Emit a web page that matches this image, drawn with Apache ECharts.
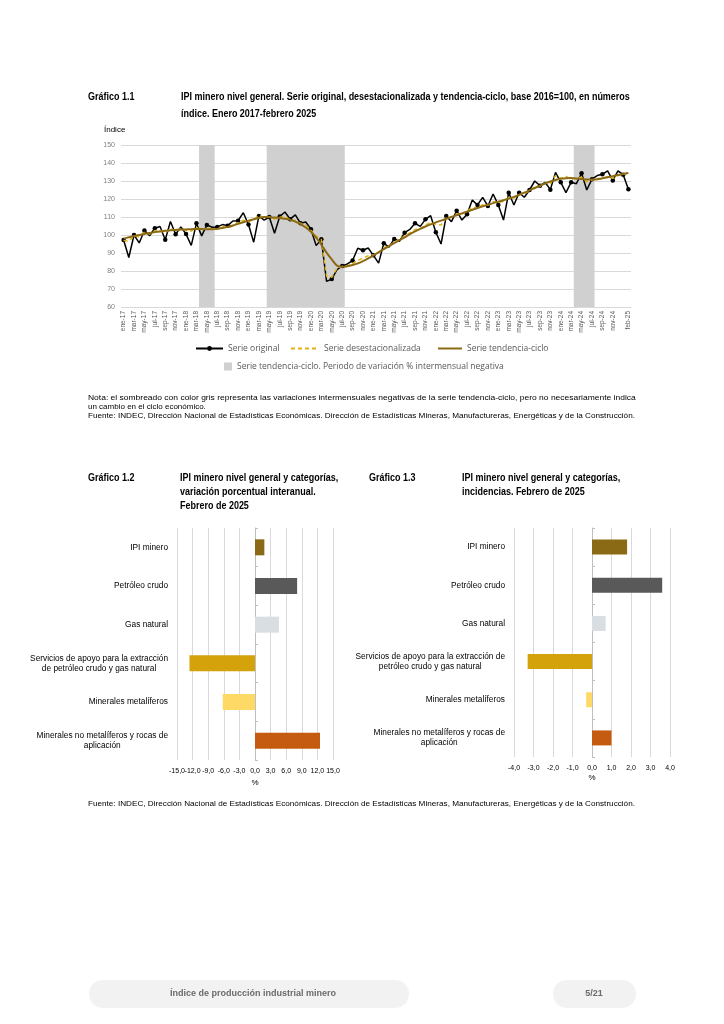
<!DOCTYPE html>
<html><head><meta charset="utf-8">
<script src="https://cdn.jsdelivr.net/npm/echarts@6/dist/echarts.min.js"></script>
<style>html,body{margin:0;padding:0;background:#fff}#main{width:724px;height:1024px}</style>
</head><body><div id="main"></div>
<script>
// ---- Gráfico 1.1 data ----
const mesesAbbr = ['ene','feb','mar','abr','may','jun','jul','ago','sep','oct','nov','dic'];
const meses = [];
for (let y = 17; y <= 25; y++) for (let m = 0; m < 12; m++) { if (y === 25 && m > 1) break; meses.push(mesesAbbr[m] + '-' + y); }

const serieOriginal = [
 97.2, 87.5,100.0, 95.6,102.5, 99.6,103.8,104.7, 97.4,107.5,100.4,104.5,
100.5, 94.2,106.5, 99.5,105.6,104.3,104.5,105.8,105.2,107.8,107.9,112.4,
105.8, 96.0,110.6,108.3,110.0,101.0,110.3,112.8,108.8,111.2,106.5,107.2,
103.2, 94.1, 97.6, 74.2, 75.5, 80.7, 82.8, 83.9, 85.8, 92.6, 91.5, 92.8,
 88.7, 84.4, 95.4, 93.3, 97.8, 96.5,101.3,103.1,106.5,104.8,108.7,110.7,
101.5, 95.0,110.6,107.4,113.5,108.3,111.5,119.4,116.7,120.9,116.1,122.8,
116.7,108.3,123.5,116.7,123.5,121.0,125.0,130.0,127.4,129.3,125.2,134.8,
129.3,123.5,129.3,128.5,134.3,125.0,131.0,133.0,133.7,135.6,130.3,135.6,
133.5,125.4];
const serieDesest = [
 97.0, 96.5, 99.5, 99.0,101.5,100.5,102.3,102.8,101.0,103.8,102.0,103.6,
102.5,102.2,104.2,102.7,104.0,103.5,103.3,104.7,104.0,105.0,106.8,108.2,
107.5,108.5,111.0,109.5,110.2,108.8,109.8,110.3,108.5,108.0,106.5,105.5,
102.5, 99.5, 97.5, 77.0, 76.5, 81.5, 82.5, 83.0, 84.0, 86.0, 87.0, 88.5,
 89.0, 90.5, 93.0, 94.0, 96.0, 97.5, 99.5,101.2,103.0,103.6,105.5,107.0,
106.0,105.5,109.5,109.8,111.8,111.5,113.2,115.5,115.0,116.8,116.5,118.5,
118.0,118.8,120.8,120.5,122.5,123.0,124.5,126.8,127.0,128.8,128.5,133.0,
131.5,132.5,131.0,131.8,132.0,129.5,130.5,131.5,131.0,132.5,131.5,133.0,
133.5,134.8];
const serieTendencia = [
 98.0, 98.7, 99.4,100.0,100.6,101.1,101.6,102.0,102.3,102.6,102.8,103.0,
103.1,103.2,103.4,103.3,103.2,103.15,103.4,103.9,104.5,105.3,106.2,107.1,
108.0,108.8,109.5,110.0,109.9,109.7,109.4,109.0,108.4,107.4,106.0,104.2,
101.8, 98.6, 94.6, 90.2, 86.4, 83.0, 82.3, 82.6, 83.3, 84.2, 85.5, 87.0,
 88.7, 90.4, 92.1, 93.8, 95.5, 97.1, 98.7,100.5,102.0,103.4,104.7,105.9,
107.0,108.0,109.0,110.0,111.0,112.0,113.0,114.0,115.0,115.9,116.8,117.7,
118.5,119.3,120.2,121.2,122.3,123.5,124.8,126.1,127.4,128.6,129.7,130.6,
131.2,131.5,131.6,131.4,131.1,130.9,130.8,131.0,131.5,132.1,132.7,133.3,
133.9,134.5];
const periodosNegativos = [['abr-18','jun-18'],['may-19','jul-20'],['abr-24','jul-24']];

// ---- Gráficos 1.2 y 1.3 data ----
const categorias12 = ['IPI minero','Petróleo crudo','Gas natural',
  'Servicios de apoyo para la extracción\nde petróleo crudo y gas natural',
  'Minerales metalíferos','Minerales no metalíferos y rocas de\naplicación'];
const categorias13 = ['IPI minero','Petróleo crudo','Gas natural',
  'Servicios de apoyo para la extracción de\npetróleo crudo y gas natural',
  'Minerales metalíferos','Minerales no metalíferos y rocas de\naplicación'];
const variacionInteranual = [1.8, 8.1, 4.6, -12.6, -6.2, 12.5];
const incidencias = [1.8, 3.6, 0.7, -3.3, -0.3, 1.0];
const coloresBarras = ['#8B6A16','#595959','#D9DEE3','#D4A20A','#FFD966','#C55A11'];

// ---- build ----
const FONT = '"Liberation Sans", Arial, sans-serif';
const LEGFONT = '"Open Sans", sans-serif';
const SHADE = '#D0D0D0';
const shadeName = 'Serie tendencia-ciclo. Periodo de variación % intermensual negativa';
const shadeData = periodosNegativos.map(p => [meses.indexOf(p[0]), meses.indexOf(p[1]), 0]);

function catLabel(v) {
  if (v.indexOf('\n') < 0) return v;
  return v.split('\n').map(s => '{c|' + s + '}').join('\n');
}
const catLabelStyle = {
  fontSize: 8.3, color: '#000', fontFamily: FONT, margin: 9, formatter: catLabel,
  rich: { c: { align: 'center', fontSize: 8.3, color: '#000', fontFamily: FONT, lineHeight: 10 } }
};
const commaFmt = v => v.toFixed(1).replace('.', ',');
// 1.2 labels split across two axes so the crowded ticks are all drawn
const fmtEven = v => (Math.round((v + 15) / 3) % 2 === 0) ? commaFmt(v) : '';
const fmtOdd = v => (Math.round((v + 15) / 3) % 2 === 1) ? commaFmt(v) : '';

function txt(text, x, y, opts, sx) {
  return { type: 'text', x: x, y: y, scaleX: sx || 1, style: Object.assign({
    text: text, x: 0, y: 0, font: '8px ' + FONT, fill: '#000',
    textAlign: 'left', textVerticalAlign: 'middle', align: 'left', verticalAlign: 'middle'
  }, opts || {}) };
}
const boldTitle = 'bold 10.5px ' + FONT;
const TSX = 0.855;
const noteFont = '8px ' + FONT;

const legText = { fontSize: 8.5, color: '#595959', fontFamily: LEGFONT };
const hideSym = { color: 'rgba(0,0,0,0)', opacity: 0, borderWidth: 0 };

const valAxis12 = (fmt, split) => ({ gridIndex: 1, type: 'value', min: -15, max: 15, interval: 3, position: 'bottom',
  axisLine: { show: false }, axisTick: { show: false },
  splitLine: { show: split, lineStyle: { color: '#D9D9D9', width: 1 } },
  axisLabel: { fontSize: 7, color: '#000', margin: 8, formatter: fmt, showMinLabel: true, showMaxLabel: true } });

const chart = echarts.init(document.getElementById('main'), null, { renderer: 'canvas' });
const option = {
  animation: false,
  backgroundColor: '#fff',
  textStyle: { fontFamily: FONT },
  grid: [
    { left: 121, top: 145, width: 510, height: 162 },
    { left: 177, top: 528, width: 156, height: 232 },
    { left: 514, top: 528, width: 156, height: 229 }
  ],
  legend: [
    { data: ['Serie original'], left: 190, top: 339, itemWidth: 27, itemHeight: 6, textStyle: legText },
    { data: [{ name: 'Serie desestacionalizada', itemStyle: hideSym }], left: 285, top: 339, itemWidth: 28, itemHeight: 6, textStyle: legText },
    { data: [{ name: 'Serie tendencia-ciclo', itemStyle: hideSym }], left: 432, top: 339, itemWidth: 24, itemHeight: 6, textStyle: legText },
    { data: [{ name: shadeName, icon: 'rect', itemStyle: { color: SHADE } }], left: 219, top: 357, itemWidth: 8, itemHeight: 8, textStyle: legText }
  ],
  xAxis: [
    { gridIndex: 0, type: 'category', data: meses, boundaryGap: true,
      axisLine: { show: false }, axisTick: { show: false }, splitLine: { show: false },
      axisLabel: { rotate: 90, fontSize: 6.5, color: '#595959', margin: 4, showMaxLabel: true,
        interval: (i) => i % 2 === 0 || i === meses.length - 1 } },
    Object.assign(valAxis12(fmtEven, true), { name: '%', nameLocation: 'middle', nameGap: 19, nameTextStyle: { fontSize: 8, color: '#000' } }),
    { gridIndex: 2, type: 'value', min: -4, max: 4, interval: 1,
      name: '%', nameLocation: 'middle', nameGap: 17, nameTextStyle: { fontSize: 8, color: '#000' },
      axisLine: { show: false }, axisTick: { show: false },
      splitLine: { lineStyle: { color: '#D9D9D9', width: 1 } },
      axisLabel: { fontSize: 7, color: '#000', margin: 8, formatter: commaFmt, showMinLabel: true, showMaxLabel: true } },
    valAxis12(fmtOdd, false)
  ],
  yAxis: [
    { gridIndex: 0, type: 'value', min: 60, max: 150, interval: 10,
      axisLine: { show: false }, axisTick: { show: false },
      splitLine: { lineStyle: { color: '#D9D9D9', width: 1 } },
      axisLabel: { fontSize: 7, color: '#7F7F7F', margin: 6 } },
    { gridIndex: 0, type: 'value', min: 0, max: 1, show: false },
    { gridIndex: 1, type: 'category', data: categorias12, inverse: true,
      axisLine: { show: false, onZero: false }, axisTick: { show: false }, axisLabel: catLabelStyle },
    { gridIndex: 1, type: 'category', data: categorias12, inverse: true,
      axisLine: { show: true, onZero: true, lineStyle: { color: '#BFBFBF', width: 1 } },
      axisTick: { show: true, length: 3, lineStyle: { color: '#BFBFBF' } }, axisLabel: { show: false } },
    { gridIndex: 2, type: 'category', data: categorias13, inverse: true,
      axisLine: { show: false, onZero: false }, axisTick: { show: false }, axisLabel: catLabelStyle },
    { gridIndex: 2, type: 'category', data: categorias13, inverse: true,
      axisLine: { show: true, onZero: true, lineStyle: { color: '#BFBFBF', width: 1 } },
      axisTick: { show: true, length: 3, lineStyle: { color: '#BFBFBF' } }, axisLabel: { show: false } }
  ],
  series: [
    { name: shadeName, type: 'custom', xAxisIndex: 0, yAxisIndex: 1, data: shadeData,
      encode: { x: [0, 1], y: 2 }, color: SHADE, itemStyle: { color: SHADE }, z: 1, silent: true,
      renderItem: (params, api) => {
        const bw = api.size([1, 0])[0];
        const x0 = api.coord([api.value(0), 0])[0] - bw / 2;
        const x1 = api.coord([api.value(1), 0])[0] + bw / 2;
        const cs = params.coordSys;
        return { type: 'rect', shape: { x: x0, y: cs.y, width: x1 - x0, height: cs.height }, style: { fill: SHADE } };
      } },
    { name: 'Serie original', type: 'line', xAxisIndex: 0, yAxisIndex: 0, data: serieOriginal,
      color: '#000', lineStyle: { color: '#000', width: 1.5 }, symbol: 'circle', symbolSize: 4.5,
      itemStyle: { color: '#000' }, z: 3 },
    { name: 'Serie desestacionalizada', type: 'line', xAxisIndex: 0, yAxisIndex: 0, data: serieDesest,
      color: '#E3B20C', lineStyle: { color: '#E3B20C', width: 1.5, type: [4, 3] }, symbol: 'none', z: 4 },
    { name: 'Serie tendencia-ciclo', type: 'line', xAxisIndex: 0, yAxisIndex: 0, data: serieTendencia,
      color: '#8B6A16', lineStyle: { color: '#8B6A16', width: 2 }, symbol: 'none', smooth: 0.3, z: 5 },
    { name: 'var12', type: 'bar', xAxisIndex: 1, yAxisIndex: 2, barWidth: 16,
      data: variacionInteranual.map((v, i) => ({ value: v, itemStyle: { color: coloresBarras[i] } })) },
    { name: 'inc13', type: 'bar', xAxisIndex: 2, yAxisIndex: 4, barWidth: 15,
      data: incidencias.map((v, i) => ({ value: v, itemStyle: { color: coloresBarras[i] } })) }
  ],
  graphic: [
    txt('Gráfico 1.1', 88, 97, { font: boldTitle }, TSX),
    txt('IPI minero nivel general. Serie original, desestacionalizada y tendencia-ciclo, base 2016=100, en números', 181, 97, { font: boldTitle }, TSX),
    txt('índice. Enero 2017-febrero 2025', 181, 114, { font: boldTitle }, TSX),
    txt('Índice', 104, 130, { font: '8px ' + FONT }),
    txt('Nota: el sombreado con color gris representa las variaciones intermensuales negativas de la serie tendencia-ciclo, pero no necesariamente indica', 88, 398, { font: noteFont }, 1.06),
    txt('un cambio en el ciclo económico.', 88, 407, { font: noteFont }),
    txt('Fuente: INDEC, Dirección Nacional de Estadísticas Económicas. Dirección de Estadísticas Mineras, Manufactureras, Energéticas y de la Construcción.', 88, 416, { font: noteFont }, 1.02),
    txt('Gráfico 1.2', 88, 478, { font: boldTitle }, TSX),
    txt('IPI minero nivel general y categorías,', 180, 478, { font: boldTitle }, TSX),
    txt('variación porcentual interanual.', 180, 492, { font: boldTitle }, TSX),
    txt('Febrero de 2025', 180, 506, { font: boldTitle }, TSX),
    txt('Gráfico 1.3', 369, 478, { font: boldTitle }, TSX),
    txt('IPI minero nivel general y categorías,', 462, 478, { font: boldTitle }, TSX),
    txt('incidencias. Febrero de 2025', 462, 492, { font: boldTitle }, TSX),
    txt('Fuente: INDEC, Dirección Nacional de Estadísticas Económicas. Dirección de Estadísticas Mineras, Manufactureras, Energéticas y de la Construcción.', 88, 804, { font: noteFont }, 1.02),
    { type: 'rect', shape: { x: 89, y: 980, width: 320, height: 28, r: 14 }, style: { fill: '#F2F2F2' } },
    { type: 'rect', shape: { x: 553, y: 980, width: 83, height: 28, r: 14 }, style: { fill: '#F2F2F2' } },
    txt('Índice de producción industrial minero', 253, 994, { font: 'bold 9px ' + FONT, fill: '#6B6B6B', textAlign: 'center', align: 'center' }),
    txt('5/21', 594, 994, { font: 'bold 9px ' + FONT, fill: '#6B6B6B', textAlign: 'center', align: 'center' })
  ]
};
chart.setOption(option);
</script>
</body></html>
